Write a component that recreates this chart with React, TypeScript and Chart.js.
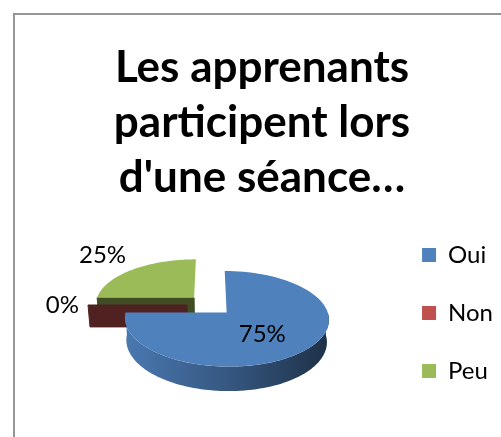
import React, { useEffect, useRef } from 'react';
import { Chart, registerables, layouts } from 'chart.js';

Chart.register(...registerables);

// ---- data ----
const categories = ['Oui', 'Non', 'Peu'];
const values = [75, 0, 25];
const explode = [23, 23, 23];
const colors = ['#4F81BD', '#C0504D', '#9BBB59'];
const titleLines = ['Les apprenants', 'participent lors', "d'une séance…"];

// ---- layout / style ----
const CW = 488;
const CH = 598;
const X0 = 18;
const Y0 = 14;
const SPACER_LEFT = 11;
const SPACER_BOTTOM = 217;
const RADIUS = 99;
const DEPTH = 25;
const TILT_SIN = 0.455;
const PERSP = 690;
const LABEL_FONT = '24px Lato';

function shade(hex: string, f: number): string {
  const n = parseInt(hex.slice(1), 16);
  const r = Math.round(((n >> 16) & 255) * f);
  const g = Math.round(((n >> 8) & 255) * f);
  const b = Math.round((n & 255) * f);
  return `rgb(${r},${g},${b})`;
}

function makeSpacer(position: string, size: number) {
  return {
    position,
    weight: 0,
    fullSize: false,
    options: { display: false },
    left: 0, top: 0, right: 0, bottom: 0, width: 0, height: 0,
    isHorizontal() { return position === 'top' || position === 'bottom'; },
    update(maxWidth: number, maxHeight: number) {
      if (this.isHorizontal()) { this.width = maxWidth; this.height = size; }
      else { this.width = size; this.height = maxHeight; }
    },
    draw() {},
  };
}

const spacerPlugin = {
  id: 'spacer',
  beforeInit(chart: any) {
    layouts.addBox(chart, makeSpacer('left', SPACER_LEFT) as any);
    layouts.addBox(chart, makeSpacer('bottom', SPACER_BOTTOM) as any);
  },
};

const pie3dPlugin = {
  id: 'pie3d',
  beforeDatasetsDraw(chart: any) {
    const ctx: CanvasRenderingContext2D = chart.ctx;
    const meta = chart.getDatasetMeta(0);
    const S = TILT_SIN;
    const C = Math.sqrt(1 - S * S);
    const total = values.reduce((a, b) => a + b, 0);
    const N = 90;

    const slices = meta.data.map((arc: any, i: number) => {
      const p = arc.getProps(['x', 'y', 'startAngle', 'endAngle', 'outerRadius'], true);
      const off = arc.options.offset || 0;
      const a0 = p.startAngle;
      const a1 = p.endAngle;
      const m = (a0 + a1) / 2;
      const span = a1 - a0;
      const ou = Math.cos(m) * off;
      const ov = Math.sin(m) * off;
      const R = p.outerRadius;
      const cdist = span > 1e-6 ? (2 * R * Math.sin(span / 2)) / (1.5 * span) : (2 * R) / 3;
      const depthKey = ov + Math.sin(m) * cdist;
      const proj = (u: number, v: number, h: number): [number, number] => {
        const z = v * C + h * S;
        const f = PERSP / (PERSP - z);
        return [p.x + u * f, p.y + (v * S - h * C) * f];
      };
      return { i, a0, a1, m, ou, ov, R, depthKey, proj, color: colors[i], value: values[i] };
    });

    const ordered = [...slices].sort((a, b) => a.depthKey - b.depthKey);

    ctx.save();
    for (const s of ordered) {
      const { a0, a1, ou, ov, R, proj, color } = s;
      const pt = (a: number, r: number, h: number) => proj(ou + r * Math.cos(a), ov + r * Math.sin(a), h);

      // radial walls facing the viewer
      const walls: number[] = [];
      if (Math.cos(a0) < -1e-6) walls.push(a0);
      if (Math.cos(a1) > 1e-6) walls.push(a1);
      for (const a of walls) {
        const q = [pt(a, 0, 0), pt(a, R, 0), pt(a, R, -DEPTH), pt(a, 0, -DEPTH)];
        ctx.beginPath();
        ctx.moveTo(q[0][0], q[0][1]);
        for (let k = 1; k < q.length; k++) ctx.lineTo(q[k][0], q[k][1]);
        ctx.closePath();
        ctx.fillStyle = shade(color, 0.41);
        ctx.fill();
        ctx.strokeStyle = shade(color, 0.41);
        ctx.lineWidth = 1;
        ctx.stroke();
      }

      // outer wall (front half)
      const lo = Math.max(a0, 0);
      const hi = Math.min(a1, Math.PI);
      if (hi - lo > 1e-6) {
        const top: [number, number][] = [];
        const bot: [number, number][] = [];
        for (let k = 0; k <= N; k++) {
          const a = lo + ((hi - lo) * k) / N;
          top.push(pt(a, R, 0));
          bot.push(pt(a, R, -DEPTH));
        }
        const l = proj(ou - R, ov, 0)[0];
        const r = proj(ou + R, ov, 0)[0];
        const grad = ctx.createLinearGradient(l, 0, r, 0);
        grad.addColorStop(0, shade(color, 0.93));
        grad.addColorStop(0.5, shade(color, 0.68));
        grad.addColorStop(1, shade(color, 0.38));
        ctx.beginPath();
        ctx.moveTo(top[0][0], top[0][1]);
        for (const q of top) ctx.lineTo(q[0], q[1]);
        for (let k = bot.length - 1; k >= 0; k--) ctx.lineTo(bot[k][0], bot[k][1]);
        ctx.closePath();
        ctx.fillStyle = grad;
        ctx.fill();
      }

      // top face
      if (a1 - a0 > 1e-6) {
        const c0 = pt(a0, 0, 0);
        ctx.beginPath();
        ctx.moveTo(c0[0], c0[1]);
        for (let k = 0; k <= N; k++) {
          const a = a0 + ((a1 - a0) * k) / N;
          const q = pt(a, R, 0);
          ctx.lineTo(q[0], q[1]);
        }
        ctx.closePath();
        ctx.fillStyle = color;
        ctx.fill();
      }
    }

    // percentage labels
    ctx.font = LABEL_FONT;
    ctx.fillStyle = '#000';
    ctx.textAlign = 'center';
    ctx.textBaseline = 'middle';
    const gap = 9;
    for (const s of slices) {
      const txt = Math.round((s.value / total) * 100) + '%';
      const w = ctx.measureText(txt).width;
      const th = 17;
      const frac = s.value / total;
      let x: number, y: number;
      if (frac > 0.3) {
        const q = s.proj(s.ou + 0.47 * s.R * Math.cos(s.m), s.ov + 0.47 * s.R * Math.sin(s.m), -DEPTH * 0.25);
        x = q[0]; y = q[1];
      } else {
        const q = s.proj(s.ou + s.R * Math.cos(s.m), s.ov + s.R * Math.sin(s.m), 0);
        const cm = Math.cos(s.m), sm = Math.sin(s.m);
        const sx = Math.abs(cm) < 0.01 ? 0 : Math.sign(cm);
        const sy = Math.abs(sm) < 0.01 ? 0 : Math.sign(sm);
        x = q[0] + cm * gap + sx * w / 2;
        y = q[1] + sm * gap + sy * th / 2;
      }
      ctx.fillText(txt, x, y);
    }
    ctx.restore();
    return false;
  },
};

export default function App() {
  const ref = useRef<HTMLCanvasElement | null>(null);

  useEffect(() => {
    if (!ref.current) return;
    const chart = new Chart(ref.current, {
      type: 'pie',
      data: {
        labels: categories,
        datasets: [
          {
            data: values,
            backgroundColor: colors,
            borderWidth: 0,
            offset: explode,
            radius: RADIUS,
          } as any,
        ],
      },
      options: {
        responsive: false,
        animation: false,
        events: [],
        layout: { padding: { left: 3, right: 3, top: 0, bottom: 0 } },
        plugins: {
          title: {
            display: true,
            text: titleLines,
            color: '#000',
            font: { family: 'Lato', size: 44, weight: 'bold', lineHeight: 1.25 },
            padding: { top: 26, bottom: 10 },
          },
          legend: {
            display: true,
            position: 'right',
            labels: {
              color: '#000',
              font: { family: 'Lato', size: 24 },
              boxWidth: 14,
              boxHeight: 14,
              padding: 34,
            },
          },
          tooltip: { enabled: false },
        },
      } as any,
      plugins: [spacerPlugin, pie3dPlugin] as any,
    });
    return () => chart.destroy();
  }, []);

  return (
    <div style={{ position: 'fixed', left: 0, top: 0, width: 501, height: 437, overflow: 'hidden', background: '#fff' }}>
      <div
        style={{
          position: 'absolute', left: 13, top: 13, width: 530, height: 460,
          border: '2px solid #969696', boxSizing: 'border-box',
        }}
      />
      <canvas ref={ref} width={CW} height={CH} style={{ position: 'absolute', left: X0, top: Y0, width: CW, height: CH }} />
    </div>
  );
}
